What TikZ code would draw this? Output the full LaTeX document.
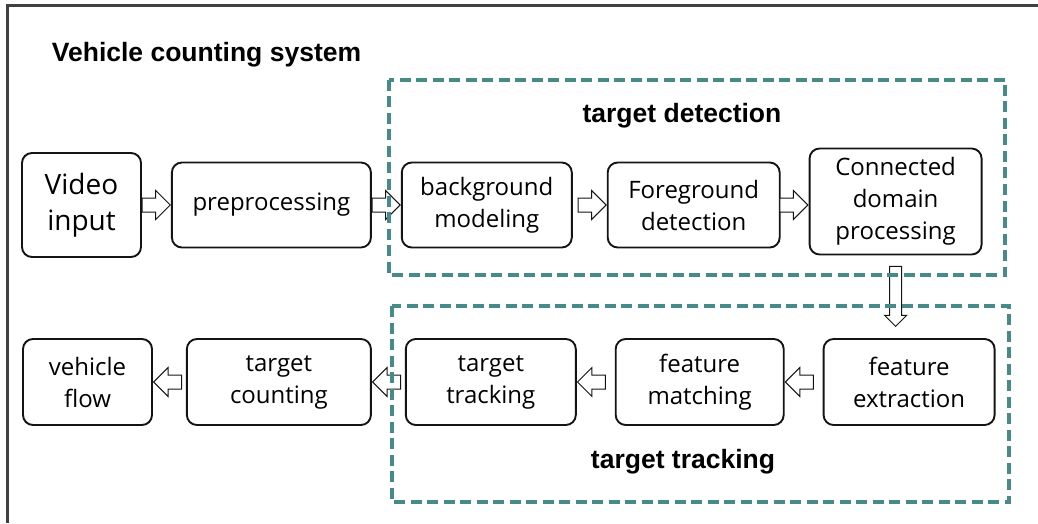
\documentclass[tikz,border=0pt]{standalone}
\usepackage{fontspec}
\setmainfont{Open Sans}
\newfontfamily\headfont{Liberation Sans}
\definecolor{framegrey}{RGB}{64, 64, 64}
\definecolor{groupteal}{RGB}{70, 138, 138}
\definecolor{boxline}{RGB}{20, 20, 20}
\usetikzlibrary{positioning, shapes.arrows, calc}

\begin{document}
\begin{tikzpicture}[x=1pt, y=1pt,
    stage/.style={draw=boxline, line width=1.9pt, rounded corners=10pt, align=center, minimum height=85pt, inner sep=2pt, font=\fontsize{24}{32}\selectfont},
    groupline/.style={draw=groupteal, line width=3.4pt, dash pattern=on 11pt off 5.5pt},
    heading/.style={font=\headfont\bfseries\fontsize{26.5}{30}\selectfont},
    fatarr/.style={single arrow, draw=boxline, fill=white, line width=1pt, inner sep=6.5pt, single arrow head extend=7.5pt, minimum height=28pt, anchor=tip, sloped, allow upside down, pos=1}]
    \useasboundingbox (0,0) rectangle (1038,523);

    % Outer frame (top and left)
    \draw [framegrey, line width=3pt] (7.5,0) -- (7.5,517.5) -- (1038,517.5);

    \node [heading] (title) at (206.5,468) {Vehicle counting system};

    % Detection row
    \node [stage, minimum width=119pt, minimum height=104pt, font=\fontsize{28}{36}\selectfont] (vid) at (81.5,318) {Video\\input};
    \node [stage, minimum width=199pt, right=29pt of vid] (pre) {preprocessing};
    \node [stage, minimum width=170pt, right=29pt of pre] (bg) {background\\modeling};
    \node [stage, minimum width=172pt, right=34pt of bg] (fg) {Foreground\\detection};
    \node [stage, minimum width=172pt, minimum height=106pt, right=28pt of fg, yshift=3.5pt] (con) {Connected\\domain\\processing};

    % Tracking row
    \node [stage, minimum width=129pt, minimum height=86pt] (flow) at (87.5,141) {vehicle\\flow};
    \node [stage, minimum width=184pt, minimum height=86pt, right=33pt of flow] (count) {target\\counting};
    \node [stage, minimum width=170pt, minimum height=86pt, right=33pt of count] (trk) {target\\tracking};
    \node [stage, minimum width=168pt, minimum height=86pt, right=38pt of trk] (match) {feature\\matching};
    \node [stage, minimum width=171pt, minimum height=86pt, right=38pt of match] (ext) {feature\\extraction};

    % Hollow arrows
    \path (vid) -- node [fatarr] {} (pre);
    \path (pre) -- node [fatarr] {} (bg);
    \path (bg) -- node [fatarr] {} (fg);
    \path (fg.east) -- node [fatarr] {} (fg.east -| con.west);
    \coordinate (dtip) at ($(con.south |- ext.north)+(0,11)$);
    \path (con.south) -- node [fatarr, minimum height=60pt, inner sep=5.5pt, single arrow head extend=5pt] {} (dtip);
    \path (ext) -- node [fatarr] {} (match);
    \path (match) -- node [fatarr] {} (trk);
    \path (trk) -- node [fatarr] {} (count);
    \path (count) -- node [fatarr] {} (flow);

    % Dashed groups
    \draw [groupline] (389,443) rectangle (1005,248);
    \node [heading] (dethead) at (682,407) {target detection};
    \draw [groupline] (392,217) rectangle (1009,21);
    \node [heading] (trkhead) at (683,61) {target tracking};
\end{tikzpicture}
\end{document}
